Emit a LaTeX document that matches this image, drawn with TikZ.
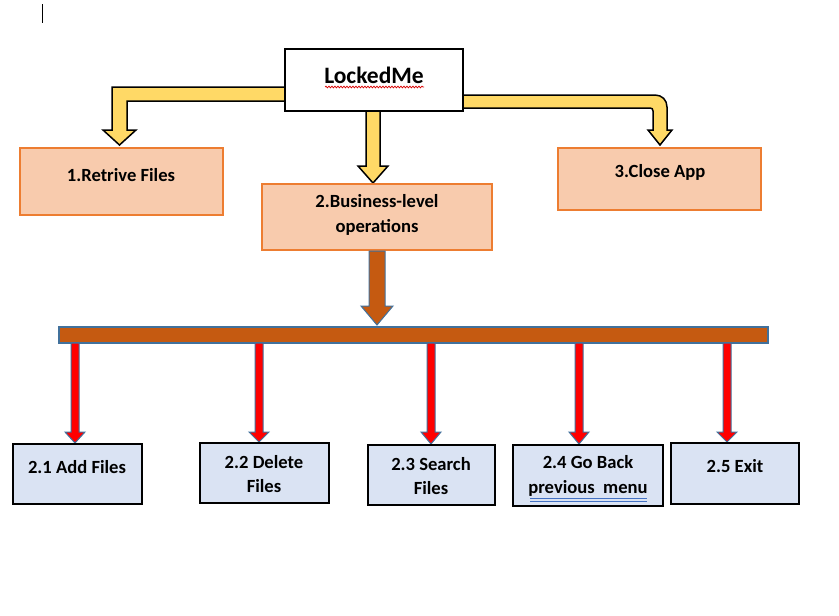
\documentclass[tikz,border=0pt]{standalone}
\usepackage{fontspec}
\setmainfont{Carlito}
\usetikzlibrary{decorations.pathmorphing}
\definecolor{orfill}{HTML}{F8CBAD}
\definecolor{ordraw}{HTML}{ED7D31}
\definecolor{blfill}{HTML}{DAE3F3}
\definecolor{yel}{HTML}{FFD966}
\definecolor{brn}{HTML}{C55A11}
\definecolor{edgeblue}{HTML}{41719C}
\definecolor{ulblue}{HTML}{4472C4}
\begin{document}
\begin{tikzpicture}[x=1pt,y=-1pt,
  txt/.style={font=\bfseries\fontsize{18.6}{24.5}\selectfont, align=center, inner sep=0pt},
  orbox/.style={draw=ordraw, fill=orfill, line width=2pt, inner sep=0pt},
  blbox/.style={draw=black, fill=blfill, line width=2pt, inner sep=0pt},
  yarrow/.style={draw=black, fill=yel, line width=1.5pt, line join=miter},
  rarrow/.style={draw=edgeblue, fill=red, line width=1pt, line join=miter},
  barstyle/.style={draw=edgeblue, fill=brn, line width=1.5pt}]
\useasboundingbox (0,0) rectangle (839,616);
\fill[white] (0,0) rectangle (839,616);
% cursor mark
\draw[line width=0.8pt] (42,4) -- (42,23);

% yellow block arrows
\draw[yarrow] (286,87) -- (112,87) -- (112,130) -- (103,130) -- (119.5,145) -- (136,130) -- (127,130) -- (127,101) -- (286,101) -- cycle;
\draw[yarrow] (366,110) -- (366,166) -- (358,166) -- (373,183) -- (388,166) -- (380,166) -- (380,110) -- cycle;
\draw[yarrow] (462,95) -- (655,95) .. controls (662,95) and (667,100) .. (667,107) -- (667,130) -- (672,130) -- (660,145) -- (648,130) -- (653,130) -- (653,111) .. controls (653,109) and (652,108) .. (650,108) -- (462,108) -- cycle;

% top box
\node[draw=black, fill=white, line width=2pt, minimum width=178pt, minimum height=62pt, inner sep=0pt] (lm) at (374,80) {};
\node[font=\bfseries\fontsize{23.5}{28}\selectfont, inner sep=0pt] (lmt) at (374,75) {LockedMe};
\draw[red!85!black, line width=0.7pt, decorate, decoration={snake, amplitude=0.9pt, segment length=3pt}] (325,87) -- (424,87);

% orange boxes
\node[orbox, minimum width=203pt, minimum height=67pt] (b1) at (121.5,181.5) {};
\node[orbox, minimum width=230pt, minimum height=66pt] (b2) at (377,217) {};
\node[orbox, minimum width=203pt, minimum height=62pt] (b3) at (659.5,179) {};
\node[txt] (b1t) at (121,175) {1.Retrive Files};
\node[txt] (b2t) at (377,215) {2.Business-level\\operations};
\node[txt] (b3t) at (660,172) {3.Close App};

% brown arrow and bar
\draw[barstyle, line width=1pt] (369,251) -- (369,306) -- (361,306) -- (377,325) -- (393,306) -- (385,306) -- (385,251) -- cycle;
\node[barstyle, minimum width=709pt, minimum height=16pt, inner sep=0pt] (bar) at (413.5,335) {};

% red arrows
\foreach \x/\t in {75/443,259/442,431/444,579/444,727/442}{
  \draw[rarrow] (\x-4,343) -- (\x-4,432) -- (\x-10,432) -- (\x,\t) -- (\x+10,432) -- (\x+4,432) -- (\x+4,343) -- cycle;
}

% bottom boxes
\node[blbox, minimum width=129pt, minimum height=60pt] (c1) at (77.5,474) {};
\node[blbox, minimum width=129pt, minimum height=60pt] (c2) at (264.5,473) {};
\node[blbox, minimum width=127pt, minimum height=60pt] (c3) at (431.5,475) {};
\node[blbox, minimum width=150pt, minimum height=61pt] (c4) at (588,475.5) {};
\node[blbox, minimum width=128pt, minimum height=61pt] (c5) at (735,473.5) {};
\node[txt] (c1t) at (77,467) {2.1 Add Files};
\node[txt] (c2t) at (264,474) {2.2 Delete\\Files};
\node[txt] (c3t) at (431,476) {2.3 Search\\Files};
\node[txt] (c4t) at (588,476) {2.4 Go Back\\previous\ \ menu};
\node[txt] (c5t) at (735,466) {2.5 Exit};
\draw[ulblue, line width=0.8pt] (530,498) -- (647,498);
\draw[ulblue, line width=0.8pt] (530,501) -- (647,501);
\end{tikzpicture}
\end{document}
